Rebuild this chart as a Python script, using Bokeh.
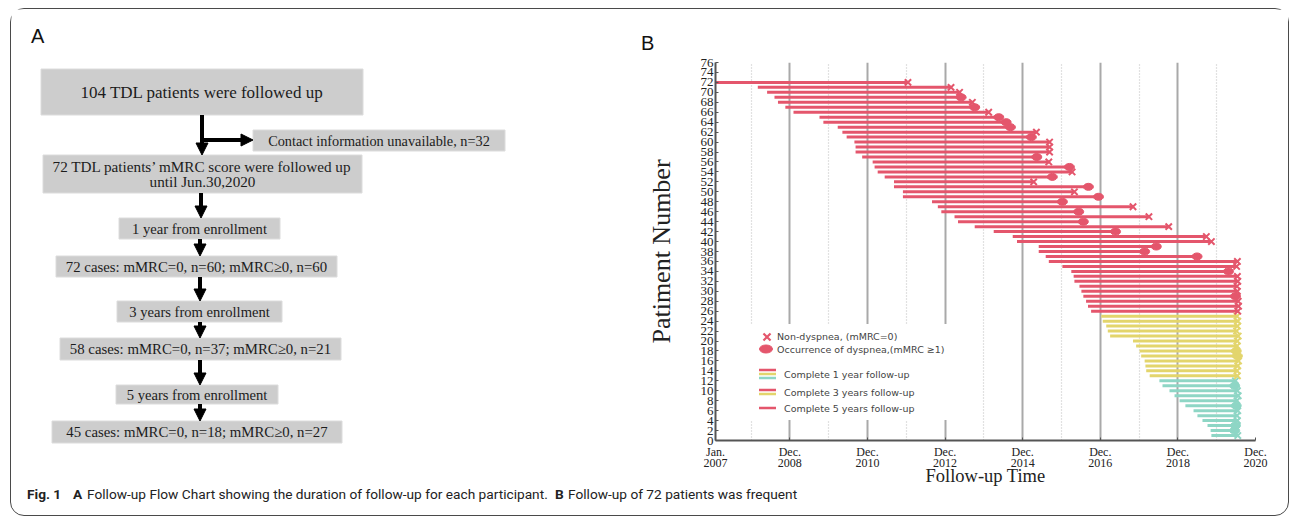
from bokeh.plotting import figure
from bokeh.models import Range1d, FixedTicker, Arrow, NormalHead, ColumnDataSource
from bokeh.layouts import column, row
from bokeh.embed import file_html
from bokeh.resources import INLINE
from bokeh.core.properties import value

# ---------------- data (panel B) ----------------
patient_no = list(range(1, 73))
start_year = [2019.78, 2019.76, 2019.68, 2019.55, 2019.42, 2019.32, 2019.11, 2018.96, 2018.83, 2018.70, 2018.52, 2018.44,
              2018.19, 2018.10, 2018.08, 2018.06, 2017.97, 2017.93, 2017.84, 2017.76, 2017.17, 2017.11, 2017.07, 2016.98, 2016.94,
              2016.68, 2016.60, 2016.55, 2016.48, 2016.43, 2016.38, 2016.25, 2016.23, 2016.17, 2015.94, 2015.59,
              2015.51, 2015.33, 2015.33, 2014.77, 2014.66, 2014.17, 2013.68, 2013.25, 2013.16, 2012.82, 2012.73, 2012.58,
              2011.83, 2011.83, 2011.60, 2011.60, 2011.36, 2011.18, 2011.10, 2011.05, 2010.78, 2010.61, 2010.61, 2010.58,
              2010.38, 2010.27, 2010.15, 2009.78, 2009.68, 2009.01, 2008.80, 2008.61, 2008.52, 2008.33, 2008.09, 2007.00]
end_year = [2020.46, 2020.38, 2020.40, 2020.45, 2020.44, 2020.46, 2020.42, 2020.44, 2020.47, 2020.45, 2020.38, 2020.40,
            2020.45, 2020.44, 2020.46, 2020.48, 2020.45, 2020.42, 2020.44, 2020.45, 2020.47, 2020.43, 2020.45, 2020.46, 2020.44,
            2020.46, 2020.48, 2020.47, 2020.40, 2020.45, 2020.44, 2020.46, 2020.45, 2020.22, 2020.43, 2020.45,
            2019.41, 2018.06, 2018.36, 2019.78, 2019.65, 2017.31, 2018.68, 2016.48, 2018.17, 2016.36, 2017.76, 2015.94,
            2016.87, 2016.25, 2016.61, 2015.20, 2015.68, 2016.19, 2016.12, 2015.59, 2015.28, 2015.61, 2015.61, 2015.61,
            2015.14, 2015.27, 2014.60, 2014.49, 2014.30, 2014.04, 2013.68, 2013.62, 2013.33, 2013.29, 2013.07, 2011.96]
# "x" = non-dyspnea (mMRC=0), "o" = occurrence of dyspnea (mMRC>=1)
outcome = ["x", "o", "o", "x", "x", "x", "o", "x", "x", "x", "o", "x",
           "x", "x", "x", "x", "o", "o", "x", "x", "x", "x", "x", "x", "x",
           "x", "x", "x", "o", "x", "x", "x", "x", "o", "x", "x",
           "o", "o", "o", "x", "x", "o", "x", "o", "x", "o", "x", "o",
           "o", "x", "o", "x", "o", "x", "o", "x", "o", "x", "x", "x",
           "o", "x", "o", "o", "o", "x", "o", "x", "o", "x", "x", "x"]
follow_up = ["1 year"] * 12 + ["3 years"] * 13 + ["5 years"] * 47

group_colors = {"1 year": "#8ED6C5", "3 years": "#E3D56C", "5 years": "#E4566C"}
RED, YEL, TEAL = group_colors["5 years"], group_colors["3 years"], group_colors["1 year"]

x_tick_month = ["Jan.", "Dec.", "Dec.", "Dec.", "Dec.", "Dec.", "Dec.", "Dec."]
x_tick_year = [2007, 2008, 2010, 2012, 2014, 2016, 2018, 2020]
x_minor_year = [2007, 2009, 2011, 2013, 2015, 2017, 2019]  # December gridlines (dotted)
y_ticks = list(range(0, 77, 2))
x_title = "Follow-up Time"
y_title = "Patiment Number"

legend_labels = ["Non-dyspnea, (mMRC=0)", "Occurrence of dyspnea,(mMRC \u22651)",
                 "Complete 1 year follow-up", "Complete 3 years follow-up", "Complete 5 years follow-up"]

# ---------------- data (panel A flow chart) ----------------
flow_text = [["104 TDL patients were followed up"],
             ["Contact information unavailable, n=32"],
             ["72 TDL patients\u2019 mMRC score were followed up", "until Jun.30,2020"],
             ["1 year from enrollment"],
             ["72 cases: mMRC=0, n=60; mMRC\u22650, n=60"],
             ["3 years from enrollment"],
             ["58 cases: mMRC=0, n=37; mMRC\u22650, n=21"],
             ["5 years from enrollment"],
             ["45 cases: mMRC=0, n=18; mMRC\u22650, n=27"]]

caption_parts = [("Fig. 1", "bold"), ("A", "bold"),
                 ("Follow-up Flow Chart showing the duration of follow-up for each participant.", "normal"),
                 ("B", "bold"), ("Follow-up of 72 patients was frequent", "normal")]

# ---------------- layout constants (page pixels) ----------------
OX, OY = 11.5, 9.5          # page offset of content (margin + border)
WA, WB, H, HC = 630, 647, 477, 29
OVER = 26                    # caption strip reaches up under panel B's tick labels
SERIF = "Liberation Serif"


def no_align(p):
    try:
        p.frame_align = False
    except Exception:
        pass


# ======== Panel A ========
pA = figure(width=WA, height=H, x_range=Range1d(OX, OX + WA), y_range=Range1d(OY + H, OY),
            output_backend="svg", toolbar_location=None,
            min_border_left=0, min_border_right=0, min_border_top=0, min_border_bottom=0)
pA.axis.visible = False
pA.grid.visible = False
pA.outline_line_color = None
no_align(pA)

box_geom = [(41, 363, 69, 115, 17), (253, 505, 130, 151, 14.3), (43, 362, 155, 193, 15.2),
            (119, 280, 218, 239, 14.6), (56, 337, 256, 277, 14.8), (117, 282, 301, 322, 14.6),
            (60, 341, 338, 360, 14.8), (116, 278, 385, 404, 14.6), (52, 342, 421, 443, 14.8)]
pA.quad(left=[b[0] for b in box_geom], right=[b[1] for b in box_geom],
        top=[b[2] for b in box_geom], bottom=[b[3] for b in box_geom],
        fill_color="#cdcdcd", line_color="#dcdcdc", line_width=1)
for (l, r, t, b, fs), lines in zip(box_geom, flow_text):
    cx = (l + r) / 2
    n = len(lines)
    lh = fs * 1.05
    cy0 = (t + b) / 2 - lh * (n - 1) / 2
    pA.text(x=[cx] * n, y=[cy0 + i * lh for i in range(n)], text=lines,
            text_font=value(SERIF), text_font_size=f"{fs}px", text_color="#1c1c1c",
            text_align="center", text_baseline="middle")

arrow_geom = [(202, 115, 202, 155), (202, 140, 253, 140), (201, 193, 201, 218), (200, 239, 200, 256),
              (200, 277, 200, 301), (200, 322, 200, 338), (200, 360, 200, 385), (200, 404, 200, 421)]
for x0, y0, x1, y1 in arrow_geom:
    pA.add_layout(Arrow(x_start=x0, y_start=y0, x_end=x1, y_end=y1, line_width=4, line_color="black",
                        end=NormalHead(size=12, fill_color="black", line_color="black", line_width=1)))

pA.text(x=[31], y=[36], text=["A"], text_font=value("Liberation Sans"), text_font_size="20px",
        text_color="#111", text_align="left", text_baseline="middle")

# ======== Panel B ========
X0, X1 = x_tick_year[0] + 0.0, x_tick_year[-1] + 11 / 12
FL, FR, FT, FB = 74, 33, 53, 46
pB = figure(width=WB, height=H, x_range=Range1d(X0, X1), y_range=Range1d(0, 76),
            output_backend="svg", toolbar_location=None,
            min_border_left=FL, min_border_right=FR, min_border_top=FT, min_border_bottom=FB)
pB.outline_line_color = None
pB.ygrid.visible = False
no_align(pB)

frame_left = OX + WA + FL
frame_bottom = OY + FT + (H - FT - FB)
ppx = (WB - FL - FR) / (X1 - X0)
ppy = (H - FT - FB) / 76.0
fx = lambda px: X0 + (px - frame_left) / ppx
fy = lambda py: (frame_bottom - py) / ppy

# panel letter as the figure title, shifted left to the panel corner
pB.title.text = "B"
pB.title.align = "left"
pB.title.offset = -(frame_left - 641)
pB.title.text_font = "Liberation Sans"
pB.title.text_font_size = "20px"
pB.title.text_font_style = "normal"
pB.title.text_color = "#111111"
pB.title.standoff = 17

tick_vals = [y + (0 if m == "Jan." else 11 / 12) for m, y in zip(x_tick_month, x_tick_year)]
minor_vals = [y + 11 / 12 for y in x_minor_year]
tick_labels = [f"{m}\n{y}" for m, y in zip(x_tick_month, x_tick_year)]
xt = FixedTicker(ticks=tick_vals, minor_ticks=minor_vals)
pB.xaxis.ticker = xt
pB.xgrid.ticker = xt
pB.xaxis.major_label_overrides = {v: lab for v, lab in zip(tick_vals, tick_labels)}
pB.xgrid.grid_line_color = "#a9a9a9"
pB.xgrid.grid_line_width = 2
pB.xgrid.minor_grid_line_color = "#c4c4c4"
pB.xgrid.minor_grid_line_width = 1.2
pB.xgrid.minor_grid_line_dash = "1 2"

pB.yaxis.ticker = FixedTicker(ticks=y_ticks)
for ax in (pB.xaxis[0], pB.yaxis[0]):
    ax.axis_line_color = "#555555"
    ax.axis_line_width = 2
    ax.major_tick_line_color = "#555555"
    ax.major_tick_in = 3
    ax.major_tick_out = 0
    ax.minor_tick_line_color = None
    ax.major_label_text_font = SERIF
    ax.major_label_text_color = "#222222"
    ax.major_label_standoff = 2
pB.xaxis.major_label_standoff = 0
pB.yaxis.major_label_text_font_size = "13px"
pB.xaxis.major_label_text_font_size = "12px"
try:
    pB.xaxis.major_label_text_line_height = 0.8
except Exception:
    pass
pB.yaxis.axis_label = y_title
pB.yaxis.axis_label_text_font = SERIF
pB.yaxis.axis_label_text_font_style = "normal"
pB.yaxis.axis_label_text_font_size = "26px"
pB.yaxis.axis_label_text_color = "#222222"
pB.yaxis.axis_label_standoff = 22

# white legend background (hides grid lines)
pB.quad(left=[fx(748)], right=[fx(968)], bottom=[fy(420)], top=[fy(324)],
        fill_color="white", line_color=None)

colors = [group_colors[g] for g in follow_up]
src = ColumnDataSource(dict(pt=patient_no, start=start_year, end=end_year, color=colors))
pB.segment(x0="start", y0="pt", x1="end", y1="pt", line_color="color", line_width=3, source=src)

xs = dict(x=[e for e, o in zip(end_year, outcome) if o == "x"],
          y=[p for p, o in zip(patient_no, outcome) if o == "x"],
          c=[c for c, o in zip(colors, outcome) if o == "x"])
os_ = dict(x=[e for e, o in zip(end_year, outcome) if o == "o"],
           y=[p for p, o in zip(patient_no, outcome) if o == "o"],
           c=[c for c, o in zip(colors, outcome) if o == "o"])
pB.scatter(x="x", y="y", marker="x", size=9, line_width=2, line_color="c", source=ColumnDataSource(xs))
pB.ellipse(x="x", y="y", width=10, height=7, width_units="screen", height_units="screen",
           fill_color="c", line_color="c", source=ColumnDataSource(os_))

# custom legend
pB.scatter(x=[fx(767)], y=[fy(337)], marker="x", size=10, line_width=2.2, line_color=RED)
pB.ellipse(x=[fx(766)], y=[fy(349)], width=13, height=8, width_units="screen", height_units="screen",
           fill_color=RED, line_color=RED)
leg_lines = [(370, RED), (374, YEL), (378, TEAL), (390, RED), (394, YEL), (408, RED)]
pB.segment(x0=[fx(759)] * len(leg_lines), x1=[fx(776)] * len(leg_lines),
           y0=[fy(l[0]) for l in leg_lines], y1=[fy(l[0]) for l in leg_lines],
           line_color=[l[1] for l in leg_lines], line_width=2.5)
pB.text(x=[fx(777), fx(777), fx(784), fx(784), fx(784)],
        y=[fy(336), fy(349), fy(374), fy(392), fy(408)], text=legend_labels,
        text_font=value("DejaVu Sans"), text_font_size="9.5px", text_color="#444444",
        text_align="left", text_baseline="middle")

# ======== Caption strip (transparent, overlaps the bottom of panel B) ========
CT = OY + H - OVER
pC = figure(width=WA + WB, height=HC + OVER, x_range=Range1d(OX, OX + WA + WB),
            y_range=Range1d(CT + HC + OVER, CT),
            output_backend="svg", toolbar_location=None,
            min_border_left=0, min_border_right=0, min_border_top=0, min_border_bottom=0,
            styles={"margin-top": f"-{OVER}px"})
pC.axis.visible = False
pC.grid.visible = False
pC.outline_line_color = None
pC.background_fill_color = None
pC.border_fill_color = None
no_align(pC)
# x-axis title of panel B, centred under the plot frame
pC.text(x=[(frame_left + frame_left + WB - FL - FR) / 2], y=[475.5], text=[x_title],
        text_font=value(SERIF), text_font_size="18.5px", text_color="#222222",
        text_align="center", text_baseline="middle")
cap_x = [27, 73, 87, 555, 568]
for (txt, wt), cx in zip(caption_parts, cap_x):
    pC.text(x=[cx], y=[494], text=[txt], text_font=value("Roboto"),
            text_font_size="13.7px", text_font_style=wt, text_color="#222222",
            text_align="left", text_baseline="middle")

layout = column(row(pA, pB, spacing=0), pC, spacing=0,
                styles={"border": "1.5px solid #4a4a4a", "border-radius": "14px",
                        "margin-left": "10px", "margin-top": "8px"})

open("out.html", "w").write(file_html(layout, INLINE))
